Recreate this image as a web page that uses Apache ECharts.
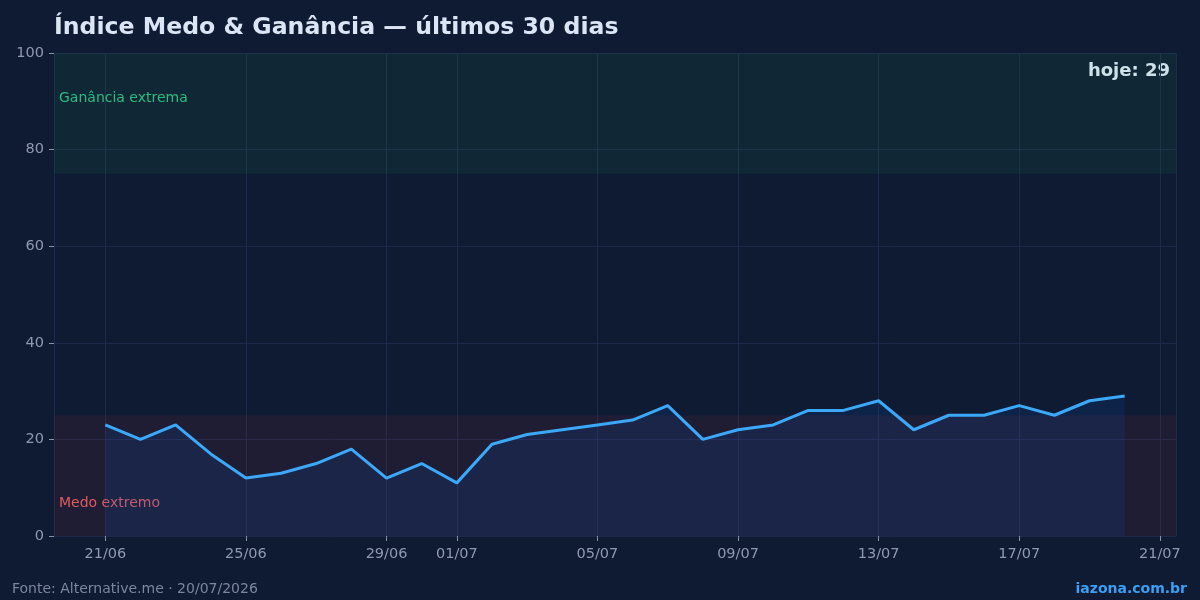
<!DOCTYPE html>
<html><head><meta charset="utf-8">
<script src="https://cdn.jsdelivr.net/npm/echarts@6/dist/echarts.min.js"></script>
<style>html,body{margin:0;padding:0;background:#0f1a33;}#c{width:1200px;height:600px;}</style>
</head><body><div id="c"></div>
<script>
const dates = ['2026-06-21','2026-06-22','2026-06-23','2026-06-24','2026-06-25','2026-06-26','2026-06-27','2026-06-28','2026-06-29','2026-06-30',
  '2026-07-01','2026-07-02','2026-07-03','2026-07-04','2026-07-05','2026-07-06','2026-07-07','2026-07-08','2026-07-09','2026-07-10',
  '2026-07-11','2026-07-12','2026-07-13','2026-07-14','2026-07-15','2026-07-16','2026-07-17','2026-07-18','2026-07-19','2026-07-20'];
const values = [23,20,23,17,12,13,15,18,12,15,11,19,21,22,23,24,27,20,22,23,26,26,28,22,25,25,27,25,28,29];
const zoneNames = ['Medo extremo','Ganância extrema'];
const zoneFrom = [0,75];
const zoneTo = [25,100];
const title = 'Índice Medo & Ganância — últimos 30 dias';
const source = 'Fonte: Alternative.me · 20/07/2026';
const brand = 'iazona.com.br';

const DAY = 86400000;
function ts(s){const p=s.split('-');return Date.UTC(+p[0],+p[1]-1,+p[2]);}
const data = dates.map((d,i)=>[ts(d), values[i]]);
const xMin = ts(dates[0]) - 1.46*DAY;
const xMax = ts('2026-07-21') + 0.46*DAY;
const font = 'DejaVu Sans';
const chart = echarts.init(document.getElementById('c'));
chart.setOption({
  backgroundColor:'#0f1a33',
  animation:false,
  textStyle:{fontFamily:font},
  title:{text:title,left:49,top:11,textStyle:{color:'#dce5f5',fontSize:23.6,fontWeight:'bold',fontFamily:font}},
  grid:{left:54,right:24,top:53,bottom:64},
  xAxis:{type:'time',min:xMin,max:xMax,
    axisLine:{show:false},
    axisTick:{show:true,length:5,lineStyle:{color:'#8893a8'}},
    axisLabel:{color:'#8f9ab0',fontSize:14.5,margin:11,formatter:function(v){const d=new Date(v);return String(d.getUTCDate()).padStart(2,'0')+'/'+String(d.getUTCMonth()+1).padStart(2,'0');}},
    splitLine:{show:true,lineStyle:{color:'#1b2a4a',width:1}}
  },
  yAxis:{type:'value',min:0,max:100,interval:20,
    axisLine:{show:false},
    axisTick:{show:true,length:5,lineStyle:{color:'#8893a8'}},
    axisLabel:{color:'#8f9ab0',fontSize:14.5,margin:10},
    splitLine:{lineStyle:{color:'#1b2a4a',width:1}}
  },
  series:[{
    type:'line',data:data,symbol:'none',z:3,
    lineStyle:{color:'#3ba8fa',width:3},
    areaStyle:{color:'rgba(10,90,200,0.2)'},
    markArea:{silent:true,data:[
      [{yAxis:zoneFrom[0],xAxis:xMin,itemStyle:{color:'rgba(239,68,68,0.075)'},label:{show:true,position:'insideBottomLeft',formatter:zoneNames[0],color:'#e05a5f',fontSize:14,offset:[0,-21]}},{yAxis:zoneTo[0],xAxis:xMax}],
      [{yAxis:zoneFrom[1],xAxis:xMin,itemStyle:{color:'rgba(34,197,94,0.075)'},label:{show:true,position:'insideTopLeft',formatter:zoneNames[1],color:'#2bbd7e',fontSize:14,offset:[0,33]}},{yAxis:zoneTo[1],xAxis:xMax}]
    ]}
  }],
  graphic:[
    {type:'text',right:30,top:62,style:{text:'hoje: '+values[values.length-1],fill:'#dce5f5',font:'bold 18px "DejaVu Sans"'}},
    {type:'text',left:12,top:582,style:{text:source,fill:'#7b879c',font:'14px "DejaVu Sans"'}},
    {type:'text',right:13,top:582,style:{text:brand,fill:'#3ba0f5',font:'bold 14px "DejaVu Sans"'}}
  ]
});
</script></body></html>
